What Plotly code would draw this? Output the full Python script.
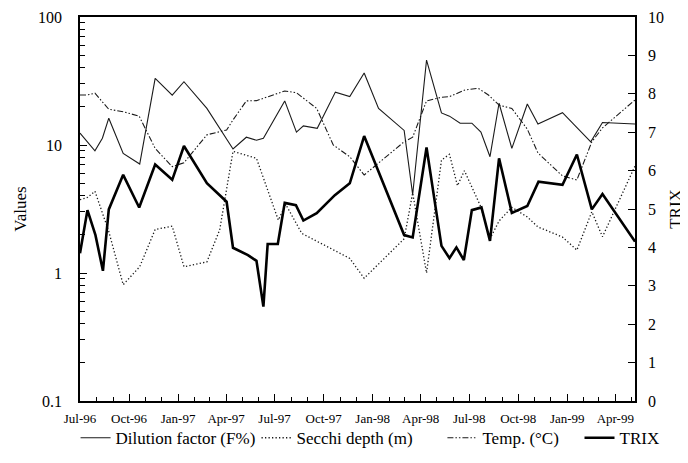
import plotly.graph_objects as go

# ---- data ----
dil_dates = ["1996-07-01", "1996-07-29", "1996-08-12", "1996-08-24", "1996-09-20", "1996-10-21",
             "1996-11-19", "1996-12-21", "1997-01-12", "1997-02-24", "1997-04-14", "1997-05-09",
             "1997-05-28", "1997-06-10", "1997-07-20", "1997-08-11", "1997-08-24", "1997-09-19",
             "1997-10-23", "1997-11-19", "1997-12-16", "1998-01-12", "1998-03-01", "1998-03-17",
             "1998-04-12", "1998-05-10", "1998-05-25", "1998-06-14", "1998-07-06", "1998-07-23",
             "1998-08-09", "1998-08-26", "1998-09-19", "1998-10-18", "1998-11-07", "1998-12-23",
             "1999-02-14", "1999-03-08", "1999-05-08"]
dilution = [12.4, 9.0, 11.3, 16.2, 8.6, 7.1, 33.2, 24.5, 31.2, 19.3, 9.3, 11.5,
            10.9, 11.3, 22.1, 12.6, 14.1, 13.5, 25.9, 23.9, 36.5, 19.3, 13.0, 4.1,
            46.1, 17.8, 16.8, 14.8, 14.8, 12.6, 8.1, 21.2, 9.4, 20.9, 14.6, 17.9,
            10.6, 15.0, 14.6]

secchi_dates = ["1996-07-01", "1996-07-15", "1996-07-29", "1996-08-24", "1996-09-20", "1996-10-21",
                "1996-11-19", "1996-12-21", "1997-01-12", "1997-02-24", "1997-03-20", "1997-04-14",
                "1997-05-28", "1997-07-08", "1997-07-22", "1997-08-21", "1997-11-19", "1997-12-16",
                "1998-03-01", "1998-03-17", "1998-04-12", "1998-05-10", "1998-05-25", "1998-06-09",
                "1998-06-22", "1998-07-23", "1998-08-09", "1998-08-26", "1998-09-19", "1998-10-18",
                "1998-11-07", "1998-12-23", "1999-01-19", "1999-02-16", "1999-03-08", "1999-05-08"]
secchi = [3.74, 3.89, 4.35, 2.11, 0.81, 1.12, 2.19, 2.32, 1.12, 1.22, 2.17, 8.93,
          7.87, 2.59, 3.43, 2.04, 1.30, 0.91, 1.85, 4.22, 1.0, 7.63, 8.46, 4.81,
          6.30, 3.28, 1.85, 2.55, 3.26, 2.74, 2.29, 1.91, 1.51, 3.01, 1.92, 6.85]

temp_dates = ["1996-07-01", "1996-07-15", "1996-07-29", "1996-08-24", "1996-09-20", "1996-10-20",
              "1996-11-19", "1996-12-21", "1997-01-12", "1997-02-24", "1997-04-02", "1997-04-14",
              "1997-05-09", "1997-05-28", "1997-07-20", "1997-08-11", "1997-09-18", "1997-10-19",
              "1997-11-19", "1997-12-16", "1998-03-01", "1998-03-17", "1998-04-12", "1998-05-10",
              "1998-05-25", "1998-06-23", "1998-07-18", "1998-08-06", "1998-08-26", "1998-09-19",
              "1998-10-18", "1998-11-07", "1998-12-23", "1999-01-19", "1999-02-16", "1999-03-08",
              "1999-05-08"]
temp = [24.6, 24.6, 25.4, 19.0, 18.2, 16.8, 9.4, 6.77, 7.27, 12.0, 13.1, 15.7,
        22.1, 22.2, 26.4, 25.6, 19.3, 10.0, 8.1, 5.83, 10.6, 11.5, 22.1, 23.6,
        23.9, 26.9, 27.7, 24.6, 20.5, 19.3, 13.3, 8.66, 5.73, 5.33, 10.6, 13.6,
        22.5]

trix_dates = ["1996-07-01", "1996-07-15", "1996-07-30", "1996-08-13", "1996-08-24", "1996-09-20",
              "1996-10-20", "1996-11-19", "1996-12-21", "1997-01-12", "1997-02-24", "1997-04-02",
              "1997-04-14", "1997-05-12", "1997-05-28", "1997-06-10", "1997-06-18", "1997-07-07",
              "1997-07-20", "1997-08-10", "1997-08-24", "1997-09-18", "1997-10-22", "1997-11-19",
              "1997-12-16", "1998-03-01", "1998-03-17", "1998-04-12", "1998-05-10", "1998-05-25",
              "1998-06-07", "1998-06-21", "1998-07-06", "1998-07-24", "1998-08-09", "1998-08-26",
              "1998-09-19", "1998-10-18", "1998-11-08", "1998-12-23", "1999-01-19", "1999-02-16",
              "1999-03-08", "1999-05-08"]
trix = [3.85, 4.97, 4.32, 3.39, 4.99, 5.89, 5.04, 6.16, 5.76, 6.64, 5.67, 5.19,
        3.99, 3.80, 3.65, 2.46, 4.09, 4.09, 5.16, 5.10, 4.70, 4.89, 5.36, 5.67,
        6.90, 4.32, 4.26, 6.60, 4.04, 3.72, 4.00, 3.67, 4.97, 5.04, 4.17, 6.32,
        4.90, 5.08, 5.71, 5.63, 6.42, 4.99, 5.39, 4.15]

left_ticks = [0.1, 1, 10, 100]
left_ticktext = ["0.1", "1", "10", "100"]
left_minor = [0.2, 0.3, 0.4, 0.5, 0.6, 0.7, 0.8, 0.9,
              2, 3, 4, 5, 6, 7, 8, 9,
              20, 30, 40, 50, 60, 70, 80, 90]
x_ticks = ["1996-07-01", "1996-10-01", "1997-01-01", "1997-04-01", "1997-07-01", "1997-10-01",
           "1998-01-01", "1998-04-01", "1998-07-01", "1998-10-01", "1999-01-01", "1999-04-01"]
x_range = ["1996-07-01", "1999-05-08"]

FONT = "Liberation Serif"
LEG_FONT = dict(family=FONT, size=17, color="black")

fig = go.Figure()
fig.add_trace(go.Scatter(x=dil_dates, y=dilution, mode="lines", name="Dilution factor (F%)",
                         legend="legend",
                         line=dict(color="#1a1a1a", width=1.1)))
fig.add_trace(go.Scatter(x=secchi_dates, y=secchi, mode="lines", name="Secchi depth (m)",
                         legend="legend2",
                         line=dict(color="#1a1a1a", width=1.3, dash="1.3px,2.2px")))
fig.add_trace(go.Scatter(x=temp_dates, y=temp, mode="lines", name="Temp. (°C)",
                         legend="legend3",
                         line=dict(color="#1a1a1a", width=1.1,
                                   dash="6px,2px,1.5px,2px,1.5px,2px")))
fig.add_trace(go.Scatter(x=trix_dates, y=trix, mode="lines", name="TRIX", yaxis="y2",
                         legend="legend4",
                         line=dict(color="black", width=2.6)))

leg_common = dict(orientation="h", xanchor="left", y=-0.05, yanchor="top",
                  font=LEG_FONT, bgcolor="rgba(0,0,0,0)", itemwidth=30)

# the page adds an 8px body margin, so the figure is 8px smaller and shifted
fig.update_layout(
    width=680, height=455,
    margin=dict(l=72, r=53, t=9, b=62, autoexpand=False),
    paper_bgcolor="white", plot_bgcolor="white",
    font=dict(family=FONT, size=15, color="black"),
    showlegend=True,
    legend=dict(x=-0.008, **leg_common),
    legend2=dict(x=0.318, **leg_common),
    legend3=dict(x=0.653, **leg_common),
    legend4=dict(x=0.900, **leg_common),
    xaxis=dict(type="date", range=x_range,
               tickvals=x_ticks, tickformat="%b-%y", automargin=False,
               ticks="inside", ticklen=7, tickwidth=1.3, tickcolor="black",
               ticklabelstandoff=5,
               showline=True, linecolor="black", linewidth=1.6, mirror=True,
               showgrid=False, zeroline=False,
               tickfont=dict(family=FONT, size=13),
               minor=dict(dtick="M1", tick0="1996-07-01", ticks="inside", ticklen=4,
                          tickwidth=1.1, tickcolor="black", showgrid=False)),
    yaxis=dict(type="log", range=[-1, 2], tickvals=left_ticks, ticktext=left_ticktext,
               automargin=False,
               ticks="inside", ticklen=7, tickwidth=1.3, tickcolor="black",
               ticklabelstandoff=13,
               showline=True, linecolor="black", linewidth=1.6,
               showgrid=False, zeroline=False,
               title=dict(text="Values", font=dict(family=FONT, size=17), standoff=7),
               tickfont=dict(family=FONT, size=16),
               minor=dict(tickmode="array", tickvals=left_minor, ticks="inside", ticklen=5,
                          tickwidth=1.1, tickcolor="black", showgrid=False)),
    yaxis2=dict(overlaying="y", side="right", range=[0, 10], dtick=1, automargin=False,
                ticks="inside", ticklen=7, tickwidth=1.3, tickcolor="black",
                ticklabelstandoff=8,
                showline=True, linecolor="black", linewidth=1.6,
                showgrid=False, zeroline=False,
                title=dict(text="TRIX", font=dict(family=FONT, size=17), standoff=6),
                tickfont=dict(family=FONT, size=16)),
)

fig.write_html("out.html")
